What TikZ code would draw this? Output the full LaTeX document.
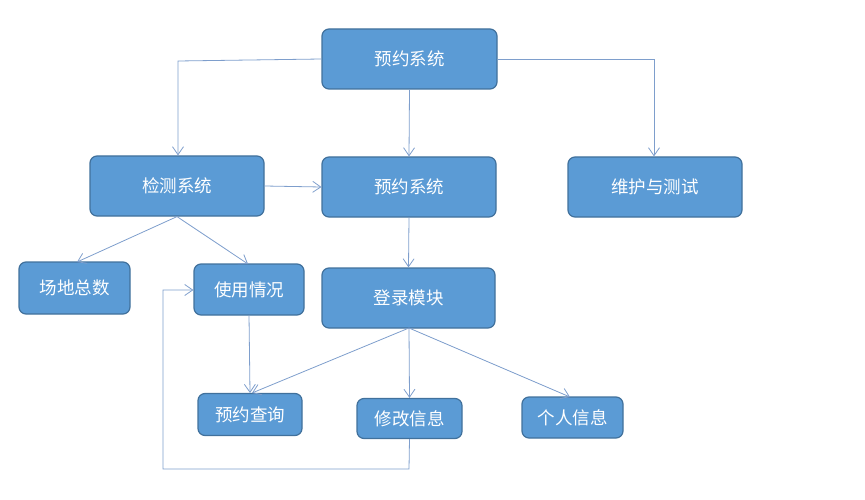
\documentclass[tikz,border=0pt]{standalone}
\usepackage{fontspec}
\newfontfamily\cjk{Noto Sans CJK SC}
\usetikzlibrary{arrows.meta}
\definecolor{boxfill}{HTML}{5B9BD5}
\definecolor{boxline}{HTML}{41719C}
\definecolor{wire}{HTML}{7E9ECC}
\tikzset{
  box/.style={draw=boxline, line width=1.2pt, fill=boxfill, rounded corners=7pt,
    text=white, font=\cjk\fontsize{17.5}{19}\selectfont, inner sep=0pt},
  wirearrow/.style={draw=wire, line width=0.8pt, -{Straight Barb[length=8pt,width=11pt,line width=0.8pt]}}
}
\begin{document}
\begin{tikzpicture}[x=1pt,y=-1pt]
\useasboundingbox (0,0) rectangle (865,500);
% boxes
\node[box, minimum width=175pt, minimum height=60pt] (top) at (409.5,59) {预约系统};
\node[box, minimum width=174pt, minimum height=60pt] (jc) at (177,186) {检测系统};
\node[box, minimum width=174pt, minimum height=60pt] (yy) at (409,187) {预约系统};
\node[box, minimum width=174pt, minimum height=60pt] (wh) at (655,187) {维护与测试};
\node[box, minimum width=111pt, minimum height=52pt] (cd) at (74.5,288) {场地总数};
\node[box, minimum width=110pt, minimum height=51pt] (sy) at (249,289.5) {使用情况};
\node[box, minimum width=173pt, minimum height=60pt] (dl) at (408.5,298) {登录模块};
\node[box, minimum width=104pt, minimum height=42pt] (cx) at (250,414.5) {预约查询};
\node[box, minimum width=105pt, minimum height=40pt] (xg) at (409.5,418.5) {修改信息};
\node[box, minimum width=101pt, minimum height=41pt] (gr) at (572.5,417.5) {个人信息};
% connectors
\coordinate (tl) at (178,61);
\coordinate (tr) at (654,59);
\draw[wirearrow] (top.west |- 0,59) -- (tl) -- (jc.north -| tl);
\draw[wirearrow] (top.south) -- (yy.north);
\draw[wirearrow] (top.east |- 0,59) -- (tr) -- (wh.north -| tr);
\draw[wirearrow] (jc.east |- 0,186) -- (yy.west |- 0,187);
\draw[wirearrow] (yy.south) -- (dl.north);
\coordinate (cdt) at (77,262);
\coordinate (syt) at (248,264);
\draw[wirearrow] (jc.south) -- (cdt);
\draw[wirearrow] (jc.south) -- (syt);
\coordinate (syb) at (249,315);
\coordinate (cxt) at (250,393);
\draw[wirearrow] (syb) -- (cxt);
\coordinate (dlb) at (409,328);
\coordinate (cxt2) at (252,393);
\coordinate (grt) at (570,397);
\draw[wirearrow] (dlb) -- (cxt2);
\draw[wirearrow] (dlb) -- (xg.north);
\draw[wirearrow] (dlb) -- (grt);
\coordinate (fb1) at (409,469);
\coordinate (fb2) at (163,469);
\coordinate (fb3) at (163,290);
\draw[wirearrow] (xg.south) -- (fb1) -- (fb2) -- (fb3) -- (sy.west |- fb3);
\end{tikzpicture}
\end{document}
